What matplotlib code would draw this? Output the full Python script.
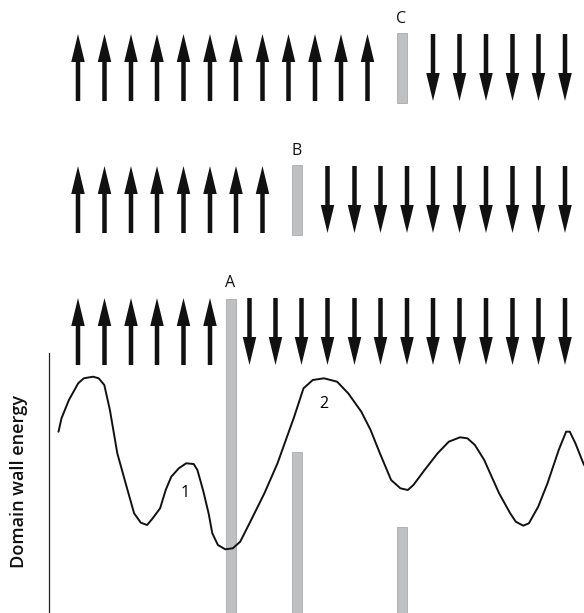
import matplotlib.pyplot as plt
import numpy as np
from matplotlib.patches import Rectangle

# spin arrows of the three rows (x centres)
up1 = [78, 104.5, 131, 157, 183.5, 210, 236, 262.5, 288.5, 315, 341, 367.5]
down1 = [433, 459.5, 486, 512.5, 538.5, 565]
up2 = [78, 104.5, 131, 157, 183.5, 210, 236, 262.5]
down2 = [327.5, 354.5, 380.5, 407, 433, 459.5, 486, 512.5, 538.5, 565]
up3 = [78, 104.5, 131, 157, 183.5, 210]
down3 = [249.5, 275.5, 301.5, 327.5, 354.5, 380.5, 407, 433, 459.5, 486, 512.5, 538.5, 565]

# domain wall positions and labels
wall_labels = ["C", "B", "A"]
wall_x = [401.5, 296.5, 230.5]

# pinning sites along the energy landscape (heights = top of bar)
pin_x = [230.5, 296.5, 401.5]
pin_top = [299, 452, 527]

# domain wall energy curve
curve_x = [58.5, 61.5, 68.9, 78.2, 83.8, 93.1, 98.7, 104.3, 109.9, 117.3, 126.6,
           134.1, 140.8, 147.1, 152.7, 160.1, 165.7, 171.3, 178.8, 186.2, 193.7,
           197.4, 203, 208.6, 212.3, 217.9, 225.3, 232.8, 240.2, 249.5, 264.4,
           277.5, 294.2, 303.5, 312.8, 324, 337.1, 348.2, 361.3, 370.6, 379.9,
           391.1, 400.4, 407.8, 413.4, 424.6, 437.6, 448.8, 460, 467.4, 474.9,
           484.2, 499.1, 510.2, 515.8, 523.3, 528.9, 538.2, 547.5, 558.7, 566.1,
           569.8, 575.4, 584]
curve_y = [431.7, 418.3, 400, 383.3, 378.3, 376.7, 378.3, 385, 410, 453.3, 486.7,
           513.3, 522.7, 525, 518.3, 508.3, 490, 476.7, 468.3, 463.3, 464,
           470, 490, 513.3, 533.3, 545, 549.3, 548.3, 541.7, 523.3, 493.3,
           463.3, 416.7, 388.3, 380, 378.3, 381.7, 393.3, 411.7, 430, 453.3,
           480, 488.3, 490, 485, 470, 453.3, 441.7, 437.3, 438.3, 445,
           460, 493.3, 513.3, 521.7, 525.7, 523.3, 506.7, 483.3, 450, 431.7,
           431.7, 443.3, 465]

row_top = [34, 166, 298]
row_bot = [101, 233, 365]

fig = plt.figure(figsize=(5.84, 6.13), dpi=100)
ax = fig.add_axes([0, 0, 1, 1])
ax.set_xlim(0, 584)
ax.set_ylim(613, 0)
ax.axis("off")

bar_fc = "#bfc0c2"
bar_ec = "#a9aaac"
arrow_c = "#111111"
font = "Open Sans"


def draw_arrows(xs, top, bot, up):
    for x in xs:
        if up:
            ax.arrow(x, bot, 0, top - bot, width=4.5, head_width=13.5, head_length=28,
                     length_includes_head=True, fc=arrow_c, ec=arrow_c, lw=0)
        else:
            ax.arrow(x, top, 0, bot - top, width=4.5, head_width=13.5, head_length=28,
                     length_includes_head=True, fc=arrow_c, ec=arrow_c, lw=0)


rows = [(up1, down1), (up2, down2), (up3, down3)]
for i, (u, d) in enumerate(rows):
    draw_arrows(u, row_top[i], row_bot[i], True)
    draw_arrows(d, row_top[i], row_bot[i], False)
    ax.text(wall_x[i], row_top[i] - 7, wall_labels[i], ha="center", va="bottom",
            fontsize=11.5, family=font, color="#111111")

# domain walls in rows C and B
for i in range(2):
    ax.add_patch(Rectangle((wall_x[i] - 5, row_top[i] - 1), 10, row_bot[i] - row_top[i] + 3,
                           fc=bar_fc, ec=bar_ec, lw=0.6))

# pinning bars at the bottom (A runs through its arrow row)
for x, t in zip(pin_x, pin_top):
    ax.add_patch(Rectangle((x - 5, t), 10, 613 - t + 5, fc=bar_fc, ec=bar_ec, lw=0.6))

ax.plot(curve_x, curve_y, color="#111111", lw=1.4, solid_joinstyle="round",
        solid_capstyle="round")

ax.text(185, 493, "1", ha="center", va="center", fontsize=11.5, family=font)
ax.text(324, 404, "2", ha="center", va="center", fontsize=11.5, family=font)

# y axis line and label
ax.plot([48.8, 48.8], [353, 613], color="#222222", lw=0.9)
ax.text(19, 482, "Domain wall energy", rotation=90, ha="center", va="center",
        fontsize=13, family=font, weight="semibold", color="#111111")

fig.savefig("out.png", dpi=100)
